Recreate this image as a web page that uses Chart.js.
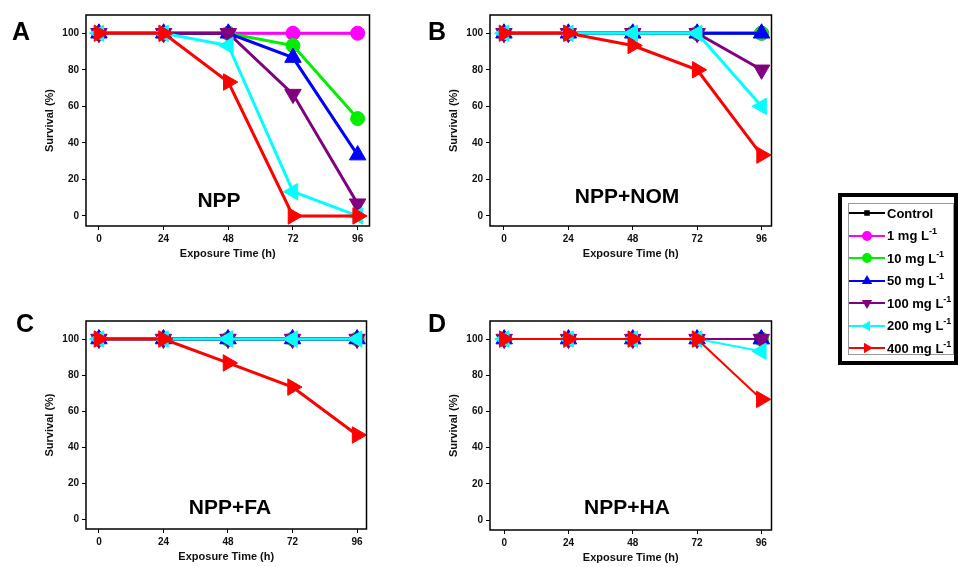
<!DOCTYPE html>
<html>
<head>
<meta charset="utf-8">
<script src="https://cdn.jsdelivr.net/npm/chart.js@4.4.1/dist/chart.umd.min.js"></script>
<style>
  body { margin: 0; background: #fff; width: 958px; height: 567px; overflow: hidden; position: relative; font-family: "Liberation Sans", Arial, sans-serif; }
  canvas.panel { position: absolute; }
  .letter { position: absolute; font-weight: bold; font-size: 25px; color: #000; line-height: 1; }
  .tag { position: absolute; font-weight: bold; font-size: 21px; color: #000; transform: translate(-50%, -50%); white-space: nowrap; }
  #legend { position: absolute; left: 838px; top: 193px; width: 112px; height: 164px; border: 4px solid #000; }
  #legendInner { position: absolute; left: 6px; top: 6px; right: 0px; bottom: 6px; border: 1px solid #999; }
  .row { position: absolute; left: 0px; height: 18px; display: flex; align-items: center; font-weight: bold; font-size: 13px; white-space: nowrap; }
  .row canvas { margin-right: 2px; }
  .row sup { font-size: 9px; position: relative; top: -1px; }
</style>
</head>
<body>
<canvas id="chartA" class="panel" width="350" height="265" style="left:30px;top:0px"></canvas>
<canvas id="chartB" class="panel" width="348" height="265" style="left:434px;top:0px"></canvas>
<canvas id="chartC" class="panel" width="347" height="262" style="left:30px;top:306px"></canvas>
<canvas id="chartD" class="panel" width="348" height="263" style="left:434px;top:306px"></canvas>

<div class="letter" style="left:12px;top:19px">A</div>
<div class="letter" style="left:428px;top:19px">B</div>
<div class="letter" style="left:16px;top:311px">C</div>
<div class="letter" style="left:428px;top:311px">D</div>

<div class="tag" style="left:219px;top:200px">NPP</div>
<div class="tag" style="left:627px;top:196px">NPP+NOM</div>
<div class="tag" style="left:230px;top:507px">NPP+FA</div>
<div class="tag" style="left:627px;top:507px">NPP+HA</div>

<div id="legend"><div id="legendInner"></div></div>

<script>
const hours = [0, 24, 48, 72, 96];
const survivalTicks = [0, 20, 40, 60, 80, 100];
const doseLabels = ["Control", "1", "10", "50", "100", "200", "400"];

// rows: Control, 1, 10, 50, 100, 200, 400 mg/L
const nppSurvival = [
  [100, 100, 100, 100, 100],
  [100, 100, 100, 100, 100],
  [100, 100, 100, 93.3, 53.3],
  [100, 100, 100, 86.7, 33.3],
  [100, 100, 100, 66.7, 6.7],
  [100, 100, 93.3, 13.3, 0],
  [100, 100, 73.3, 0, 0]
];
const nomSurvival = [
  [100, 100, 100, 100, 100],
  [100, 100, 100, 100, 100],
  [100, 100, 100, 100, 100],
  [100, 100, 100, 100, 100],
  [100, 100, 100, 100, 80],
  [100, 100, 100, 100, 60],
  [100, 100, 93.3, 80, 33.3]
];
const faSurvival = [
  [100, 100, 100, 100, 100],
  [100, 100, 100, 100, 100],
  [100, 100, 100, 100, 100],
  [100, 100, 100, 100, 100],
  [100, 100, 100, 100, 100],
  [100, 100, 100, 100, 100],
  [100, 100, 86.7, 73.3, 46.7]
];
const haSurvival = [
  [100, 100, 100, 100, 100],
  [100, 100, 100, 100, 100],
  [100, 100, 100, 100, 100],
  [100, 100, 100, 100, 100],
  [100, 100, 100, 100, 100],
  [100, 100, 100, 100, 93.3],
  [100, 100, 100, 100, 66.7]
];

const colores = ["#000000", "#ff00ff", "#00ee00", "#0000ff", "#800080", "#00ffff", "#ff0000"];
const formas = ["rect", "circle", "circle", "triangle", "triangle", "triangle", "triangle"];
const giros = [0, 0, 0, 0, 180, 270, 90];
const radios = [4, 7, 7, 9.5, 9.5, 9.5, 9.5];

const fuente = "'Liberation Sans', Arial, sans-serif";

const marcoPlugin = {
  id: "marco",
  afterDraw(chart) {
    const a = chart.chartArea;
    const ctx = chart.ctx;
    ctx.save();
    ctx.strokeStyle = "#000";
    ctx.lineWidth = 1.5;
    ctx.strokeRect(a.left, a.top, a.right - a.left, a.bottom - a.top);
    ctx.restore();
  }
};

function crearPanel(id, valores, xMin, xMax, grosor) {
  const datasets = valores.map((serie, i) => ({
    label: doseLabels[i],
    data: hours.map((h, j) => ({ x: h, y: serie[j] })),
    borderColor: colores[i],
    backgroundColor: colores[i],
    borderWidth: i === 0 ? 2 : grosor,
    pointStyle: formas[i],
    pointRotation: giros[i],
    pointRadius: radios[i],
    pointBorderWidth: 1,
    clip: false,
    order: 7 - i
  }));

  new Chart(document.getElementById(id), {
    type: "line",
    data: { datasets: datasets },
    options: {
      responsive: false,
      devicePixelRatio: 1,
      animation: false,
      layout: { padding: { top: 15, right: 10, left: 0, bottom: 0 } },
      plugins: { legend: { display: false }, tooltip: { enabled: false } },
      scales: {
        x: {
          type: "linear",
          min: xMin,
          max: xMax,
          afterBuildTicks: (s) => { s.ticks = hours.map((v) => ({ value: v })); },
          afterFit: (s) => { s.height = 39; },
          border: { display: false },
          grid: { drawOnChartArea: false, drawTicks: true, tickLength: 4, color: "#000" },
          ticks: { color: "#111", font: { family: fuente, size: 10, weight: "bold" }, padding: 3, maxRotation: 0 },
          title: { display: true, text: "Exposure Time (h)", color: "#111", font: { family: fuente, size: 11, weight: "bold" }, padding: { top: 0, bottom: 4 } }
        },
        y: {
          type: "linear",
          min: -5.5,
          max: 110,
          afterBuildTicks: (s) => { s.ticks = survivalTicks.map((v) => ({ value: v })); },
          afterFit: (s) => { s.width = 56; },
          border: { display: false },
          grid: { drawOnChartArea: false, drawTicks: true, tickLength: 4, color: "#000" },
          ticks: { color: "#111", font: { family: fuente, size: 10, weight: "bold" }, padding: 3 },
          title: { display: true, text: "Survival (%)", color: "#111", font: { family: fuente, size: 11, weight: "bold" }, padding: { top: 13, bottom: 0 } }
        }
      }
    },
    plugins: [marcoPlugin]
  });
}

crearPanel("chartA", nppSurvival, -4.8, 100.4, 3);
crearPanel("chartB", nomSurvival, -5.2, 99.7, 3);
crearPanel("chartC", faSurvival, -4.8, 99.5, 3);
crearPanel("chartD", haSurvival, -5.3, 99.8, 2);

// leyenda
function llenarLeyenda() {
  const cont = document.getElementById("legendInner");
  doseLabels.forEach((dosis, i) => {
    const fila = document.createElement("div");
    fila.className = "row";
    fila.style.top = (i * 22.5) + "px";
    const icono = document.createElement("canvas");
    icono.width = 36;
    icono.height = 14;
    const ctx = icono.getContext("2d");
    ctx.strokeStyle = colores[i];
    ctx.fillStyle = colores[i];
    ctx.lineWidth = 2;
    ctx.beginPath();
    ctx.moveTo(0, 7);
    ctx.lineTo(36, 7);
    ctx.stroke();
    Chart.helpers.drawPoint(ctx, { pointStyle: formas[i], rotation: giros[i], radius: i === 0 ? 2.5 : 4, borderWidth: 1 }, 18, 7);
    fila.appendChild(icono);
    const texto = document.createElement("span");
    if (i === 0) {
      texto.textContent = dosis;
    } else {
      texto.innerHTML = dosis + " mg L<sup>-1</sup>";
    }
    fila.appendChild(texto);
    cont.appendChild(fila);
  });
}
llenarLeyenda();
</script>
</body>
</html>
